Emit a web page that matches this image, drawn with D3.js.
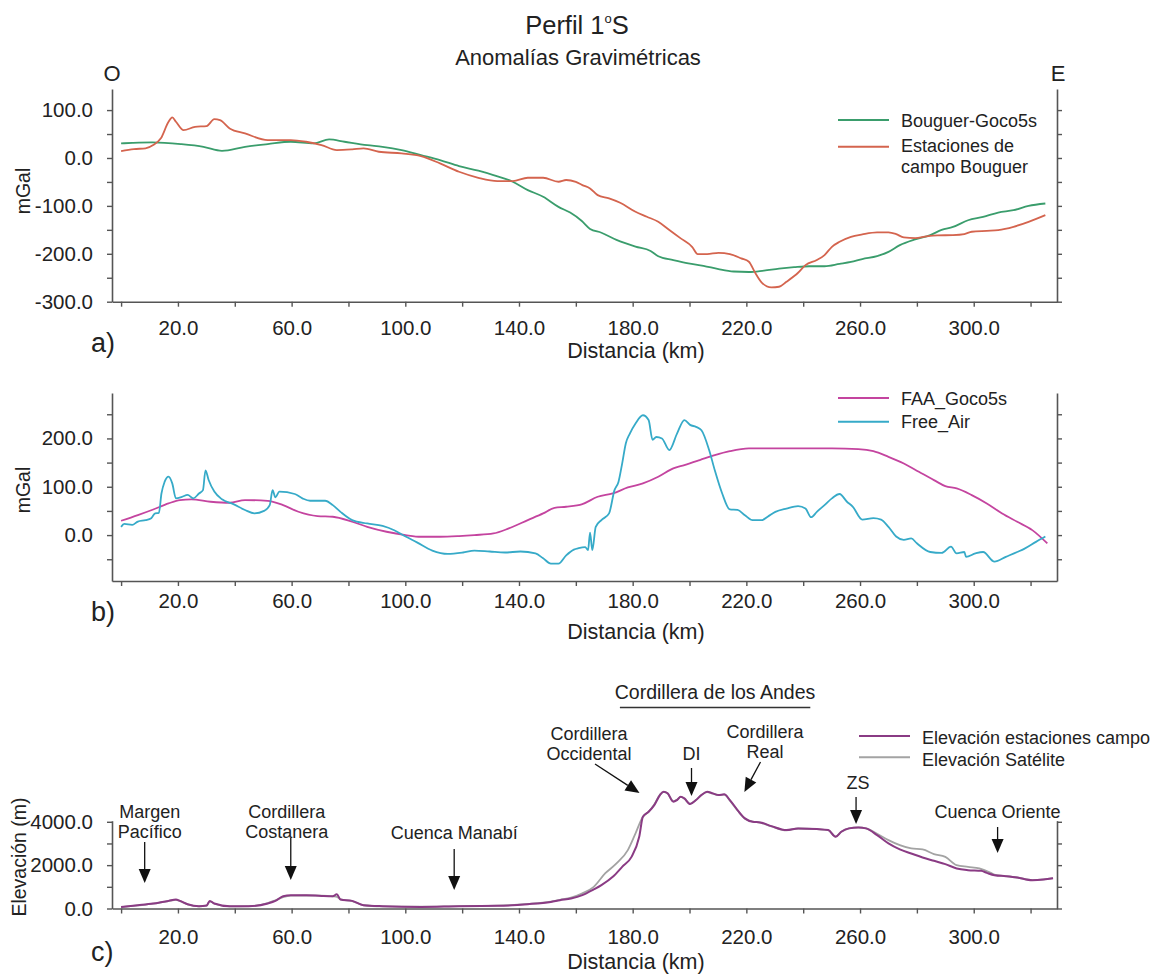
<!DOCTYPE html>
<html>
<head>
<meta charset="utf-8">
<script src="https://cdn.jsdelivr.net/npm/d3@7"></script>
<style>
  body { margin: 0; background: #fff; }
  svg { display: block; font-family: "Liberation Sans", Arial, sans-serif; }
</style>
</head>
<body>
<svg id="chart" width="1153" height="974"></svg>
<script>
// ---- Distance axis (km), shared by the three profiles ----
const distTicks = [0, 20, 40, 60, 80, 100, 120, 140, 160, 180, 200, 220, 240, 260, 280, 300, 320];
const distLabels = [20, 60, 100, 140, 180, 220, 260, 300];

// ---- a) Bouguer anomalies (mGal) as [km, value] ----
const bouguerGoco5s = [
  [0,30.5],[4,31.5],[11,32.5],[21,29],[29,23.4],[35.5,15],[43.6,23.4],[51.6,29],[59.7,33.9],[67.8,30.5],
  [73.2,38.7],[78.6,33.9],[86.6,26.9],[92,23.4],[98.7,16.5],[105.5,6],[112.2,-4.4],[118.9,-16.9],[125.7,-26.6],
  [131,-35.7],[137.8,-49.6],[143.1,-67],[148.5,-81],[153.9,-102],[158,-114],[162,-131],[165,-148],[169,-156],
  [174.3,-171],[181,-185],[186.3,-194],[189,-205],[194.3,-213],[199.6,-220],[204.9,-225],[210.2,-232],
  [215.5,-237],[220.9,-238],[226.2,-235],[231.5,-231],[236.8,-228],[242.1,-226],[247.5,-226],[252.8,-221],
  [256.8,-217],[260.8,-211],[266,-205],[270,-196],[274,-182],[279.4,-170],[284.7,-161],[288.7,-150],
  [292.7,-144],[298,-130],[303.3,-123],[308.6,-114],[314,-109],[319.3,-100],[325.2,-95]
];
const bouguerCampo = [
  [0,14.4],[4.5,18.6],[8.6,20],[11.3,27],[14,41],[16.7,75.6],[18,84.7],[19.3,75.6],[22,58],[26,65],
  [30.1,66.6],[32.8,81],[34.8,79],[38.2,61.7],[43.6,51.3],[51.6,37.4],[59.7,37.4],[65.1,33.9],[70.5,27],
  [75.9,16.5],[81.3,18],[85.3,20],[90.7,13],[98.7,9.5],[105.5,4],[112.2,-11.3],[118.9,-28.8],[125.7,-41.3],
  [132.4,-48.2],[137.8,-48.2],[143.1,-41.3],[148.5,-41.3],[153.9,-49.6],[156.6,-46],[160,-50],[162.3,-56.6],
  [165,-63.5],[167.7,-77.5],[171.7,-84.3],[175.6,-93.5],[181,-112.3],[185,-122.7],[189,-133.2],[192.9,-150.5],
  [196.9,-167.8],[200.9,-185.4],[202.9,-200.6],[206.2,-200.6],[210.2,-197.9],[214.2,-200.6],[218.2,-209.6],
  [220.9,-216.6],[222.9,-237.5],[225.5,-260.5],[228.8,-270],[231.5,-268.8],[234.1,-258.4],[238.2,-239.6],
  [240.8,-223.6],[244.8,-213],[247.5,-202.7],[250.1,-185.4],[252.8,-174.9],[256.8,-164.5],[260.8,-159.5],
  [266,-155.3],[270,-155.3],[272.7,-158.9],[275.4,-165.8],[279.4,-167.2],[283.4,-163.7],[287.3,-161.6],
  [292.7,-161],[296.7,-158.9],[299.3,-154],[304.6,-152],[308.6,-150.5],[314,-143.6],[319.3,-133.2],[325.2,-119.2]
];

// ---- b) Free-air anomalies (mGal) as [km, value] ----
const faaGoco5s = [
  [0,29.6],[5.9,41.4],[11.3,53],[16.7,65.5],[20.7,72.4],[24.7,73.7],[31.5,69],[38.2,66.9],[43.6,72.4],
  [51.6,71],[57,62],[62.4,48.3],[69.1,39.3],[74.5,37.9],[81.3,27.6],[86.6,17.2],[93.4,6.9],[100.1,0],
  [105.5,-3.4],[112.2,-3.4],[118.9,-2],[124.3,0],[131,3.4],[136.4,13.8],[143.1,31],[148.5,44.8],[152.5,56.5],
  [156.6,58.6],[162.3,64.1],[167.7,79.3],[173,86.2],[178.3,98.6],[183.6,106.9],[189,120.6],[194.3,137.9],
  [198.2,144.8],[203.6,155.1],[208.9,165.5],[214.2,173.7],[220.9,179.3],[228.8,179.3],[239.5,179.3],
  [250.1,179.3],[259.4,177.9],[264.7,173.7],[270,162],[275.4,148.2],[280.7,131],[286,113.8],[290,101.3],
  [294,96.5],[299.3,82.7],[304.6,65.5],[310,44.8],[315.3,27.6],[320.6,10.3],[325.9,-17.2]
];
const freeAir = [
  [0,17],[1.1,23],[3.9,21],[5.9,28],[8.6,31],[10.6,35],[12,45],[13.3,46],[14.2,86],[15.3,110],[16.7,121],
  [18,107],[19.3,76],[21.4,79],[23.4,83],[25.4,76],[27.4,86],[28.8,93],[29.7,134],[30.8,114],[32.8,90],
  [35.5,74],[39.5,64],[43.6,52],[46.9,45],[50.3,50],[52.3,62],[53.3,93],[54.3,78],[55.7,90],[61.1,85],
  [63.8,76],[66.5,71],[71.8,71],[74.5,62],[77.2,48],[81.3,31],[86.6,24],[92,19],[96.1,10],[100.1,-3],
  [104.1,-15],[109.5,-32],[114.9,-39],[120.3,-36],[124.3,-32],[129.7,-34],[135.1,-36],[140.5,-34],
  [145.8,-38],[148.5,-48],[151.2,-59],[153.9,-59],[156.6,-42],[159.3,-30],[161,-27],[163.3,-25],[164.3,-31],
  [165,5],[165.8,-31],[167,17],[169,31],[171.7,45],[173.6,93],[175,110],[176.3,148],[177.6,190],[179,210],
  [181,231],[183.6,248],[185.6,238],[187,197],[188.3,203],[190.3,200],[192.9,176],[195.6,210],[198.2,238],
  [200.2,228],[202.3,224],[204.2,217],[206.9,176],[208.9,134],[211.5,86],[214.2,53],[216.9,52],[219.5,41],
  [222.2,31],[225.5,31],[227.5,38],[230.2,48],[234.1,55],[238.2,60],[240.8,55],[242.8,37],[244.8,48],
  [247.5,62],[250.1,76],[252.8,85],[255.4,69],[257.4,59],[260.8,32],[264.7,35],[267.4,32],[270,17],
  [272.7,-3],[275.4,-10],[278,-7],[280,-17],[284.7,-35],[288.7,-37],[292,-24],[294,-38],[296.7,-35],
  [297.3,-45],[300.6,-38],[303.3,-35],[307.3,-55],[311.3,-45],[315.3,-35],[317.9,-28],[321.9,-14],[325.2,-3]
];

// ---- c) Topography (m) as [km, value] ----
const elevCampo = [
  [0,74],[5.9,152],[11.3,231],[16.7,351],[19.3,416],[20.7,351],[23.4,199],[27.4,106],[30.1,139],[31.2,351],
  [32.8,231],[38.2,106],[44.9,106],[51.6,231],[54.3,351],[57,568],[59.7,614],[65.1,614],[70.5,582],[74.5,568],
  [75.9,660],[77.2,416],[81.3,351],[85.3,152],[92,106],[105.5,74],[118.9,106],[132.4,122],[143.1,199],
  [151.2,305],[154.4,383],[158.3,462],[162.3,614],[166.3,877],[169,1076],[173,1460],[176.3,1922],[179.6,2383],
  [182.3,3307],[183.6,4231],[185.6,4462],[187.6,4771],[189.6,5233],[190.9,5386],[192.3,5312],[194.3,4924],
  [195.6,5002],[196.9,5155],[198.2,5081],[200.2,4818],[202.3,5002],[204.2,5233],[206.2,5386],[208.2,5312],
  [210.2,5233],[212.2,5266],[214.2,5002],[216.9,4540],[219.5,4157],[222.2,4000],[224.9,3972],[228.8,3801],
  [234.1,3617],[238.2,3695],[244.8,3663],[248.8,3617],[251.4,3307],[253.4,3538],[256.1,3695],[259.4,3741],
  [262.1,3695],[266,3386],[270,3002],[274,2725],[278,2540],[282,2356],[286,2199],[290,2046],[294,1848],
  [298,1769],[302.6,1737],[304.6,1644],[307.3,1538],[311.3,1492],[315.3,1432],[320.6,1307],[324.6,1340],[327.9,1400]
];
const elevSatelite = [
  [0,60],[5.9,140],[11.3,220],[16.7,340],[19.3,400],[20.7,340],[23.4,190],[27.4,100],[30.1,130],[31.2,330],
  [32.8,220],[38.2,100],[44.9,110],[51.6,250],[54.3,380],[57,520],[59.7,590],[65.1,600],[70.5,590],[74.5,560],
  [75.9,540],[77.2,420],[81.3,340],[85.3,150],[92,100],[105.5,80],[118.9,110],[132.4,130],[143.1,210],
  [151.2,320],[154.4,400],[158.3,500],[162.3,700],[166.3,1000],[170.3,1617],[174.3,2078],[178.3,2693],
  [181,3464],[183.6,4231],[185.6,4462],[187.6,4800],[189.6,5250],[190.9,5380],[192.3,5300],[194.3,4950],
  [195.6,5020],[196.9,5150],[198.2,5060],[200.2,4830],[202.3,5010],[204.2,5240],[206.2,5370],[208.2,5300],
  [210.2,5240],[212.2,5250],[214.2,4980],[216.9,4520],[219.5,4140],[222.2,4010],[224.9,3960],[228.8,3790],
  [234.1,3600],[238.2,3690],[244.8,3660],[248.8,3610],[251.4,3320],[253.4,3540],[256.1,3700],[259.4,3740],
  [262.1,3700],[266,3450],[270,3155],[274,2924],[278,2771],[282,2725],[286,2508],[290,2383],[294,2000],
  [298,1922],[302,1848],[306,1644],[307.3,1560],[311.3,1490],[315.3,1430],[320.6,1310],[324.6,1340],[327.9,1400]
];

// ---- Place names along the profile (km) ----
const placeLabels = [
  { lines: ["Margen", "Pacífico"], km: 8.3 },
  { lines: ["Cordillera", "Costanera"], km: 59.7 },
  { lines: ["Cuenca Manabí"], km: 117.2 },
  { lines: ["DI"], km: 200.7 },
  { lines: ["ZS"], km: 258.6 },
  { lines: ["Cuenca Oriente"], km: 308.4 }
];

// ---------------------------------------------------------------
const svg = d3.select("#chart");
const FONT_TICK = 20.5;
const AXIS_COLOR = "#555";
const TEXT_COLOR = "#222";

const x = d3.scaleLinear().domain([-3.2, 329.3]).range([112, 1057]);

// Title block
const title = svg.append("text")
  .attr("x", 577).attr("y", 34)
  .attr("text-anchor", "middle")
  .attr("font-size", 25.5).attr("fill", TEXT_COLOR);
title.append("tspan").text("Perfil 1");
title.append("tspan").attr("font-size", 13).attr("dy", -11).text("o");
title.append("tspan").attr("dy", 11).text("S");

svg.append("text").attr("x", 578).attr("y", 65).attr("text-anchor", "middle")
  .attr("font-size", 22).attr("fill", TEXT_COLOR).text("Anomalías Gravimétricas");

svg.append("text").attr("x", 112).attr("y", 81).attr("text-anchor", "middle")
  .attr("font-size", 22).attr("fill", TEXT_COLOR).text("O");
svg.append("text").attr("x", 1058).attr("y", 81).attr("text-anchor", "middle")
  .attr("font-size", 22).attr("fill", TEXT_COLOR).text("E");

// Generic profile panel: frame on left, bottom and right, ticks outward.
function drawPanel(opt) {
  const y = d3.scaleLinear().domain(opt.yDomain).range([opt.bottom, opt.top]);
  const g = svg.append("g");

  const xAxis = d3.axisBottom(x)
    .tickValues(distTicks)
    .tickSize(5).tickSizeOuter(0)
    .tickPadding(opt.xPad)
    .tickFormat(d => distLabels.includes(d) ? d.toFixed(1) : "");
  const gx = g.append("g").attr("transform", `translate(0,${opt.bottom})`).call(xAxis);

  const yLeft = d3.axisLeft(y)
    .tickValues(opt.yTicks)
    .tickSize(5).tickSizeOuter(0)
    .tickPadding(14)
    .tickFormat(d => opt.yLabels.includes(d) ? d.toFixed(1) : "");
  const gyl = g.append("g").attr("transform", `translate(${x.range()[0]},0)`).call(yLeft);

  const yRight = d3.axisRight(y)
    .tickValues(opt.yTicks)
    .tickSize(5).tickSizeOuter(0)
    .tickFormat("");
  const gyr = g.append("g").attr("transform", `translate(${x.range()[1]},0)`).call(yRight);

  [gx, gyl, gyr].forEach(a => {
    a.select(".domain").attr("stroke", AXIS_COLOR).attr("stroke-width", 1.6);
    a.selectAll(".tick line").attr("stroke", AXIS_COLOR).attr("stroke-width", 1.4);
    a.selectAll(".tick text").attr("font-size", FONT_TICK)
      .attr("font-family", '"Liberation Sans", Arial, sans-serif').attr("fill", TEXT_COLOR);
  });

  // y axis title
  svg.append("text")
    .attr("transform", `translate(${opt.yTitleX},${opt.yTitleY}) rotate(-90)`)
    .attr("text-anchor", "middle").attr("dominant-baseline", "central")
    .attr("font-size", 19.5).attr("fill", TEXT_COLOR).text(opt.yTitle);

  // x axis title
  svg.append("text").attr("x", 636).attr("y", opt.xTitleY)
    .attr("text-anchor", "middle").attr("font-size", 21.5).attr("fill", TEXT_COLOR)
    .text("Distancia (km)");

  // panel letter
  svg.append("text").attr("x", 91).attr("y", opt.letterY)
    .attr("font-size", 27).attr("fill", TEXT_COLOR).text(opt.letter);

  const line = d3.line().x(d => x(d[0])).y(d => y(d[1])).curve(d3.curveMonotoneX);
  opt.series.forEach(s => {
    g.append("path").datum(s.data)
      .attr("fill", "none").attr("stroke", s.color)
      .attr("stroke-width", s.width || 1.8)
      .attr("stroke-linejoin", "round")
      .attr("d", line);
  });

  // legend
  const lg = svg.append("g");
  opt.legend.items.forEach((it, i) => {
    const ly = opt.legend.lineY[i];
    lg.append("line").attr("x1", opt.legend.x0).attr("x2", opt.legend.x1)
      .attr("y1", ly).attr("y2", ly)
      .attr("stroke", it.color).attr("stroke-width", 2);
    const t = lg.append("text").attr("x", opt.legend.tx).attr("y", opt.legend.textY[i])
      .attr("font-size", 18).attr("fill", TEXT_COLOR);
    it.label.forEach((ln, j) => {
      t.append("tspan").attr("x", opt.legend.tx).attr("dy", j === 0 ? 0 : 21).text(ln);
    });
  });
  return y;
}

const colGreen = "#3a9d6c", colRed = "#d4644e", colMag = "#c4449f", colCyan = "#36aac8";
const colPurple = "#8a3b84", colGray = "#a3a3a3";

// a) Bouguer
drawPanel({
  top: 89, bottom: 301.7, yDomain: [-300, 144],
  yTicks: [-300, -250, -200, -150, -100, -50, 0, 50, 100],
  yLabels: [-300, -200, -100, 0, 100],
  xPad: 14, yTitle: "mGal", yTitleX: 23, yTitleY: 191,
  xTitleY: 358, letter: "a)", letterY: 352,
  series: [
    { data: bouguerGoco5s, color: colGreen },
    { data: bouguerCampo, color: colRed }
  ],
  legend: {
    x0: 838, x1: 889, tx: 901,
    lineY: [120, 146.7], textY: [127, 151.5],
    items: [
      { label: ["Bouguer-Goco5s"], color: colGreen },
      { label: ["Estaciones de", "campo Bouguer"], color: colRed }
    ]
  }
});

// b) Free air
drawPanel({
  top: 393, bottom: 581, yDomain: [-95, 294],
  yTicks: [-50, 0, 50, 100, 150, 200, 250],
  yLabels: [0, 100, 200],
  xPad: 7, yTitle: "mGal", yTitleX: 23, yTitleY: 490,
  xTitleY: 639, letter: "b)", letterY: 621,
  series: [
    { data: faaGoco5s, color: colMag },
    { data: freeAir, color: colCyan }
  ],
  legend: {
    x0: 838, x1: 889, tx: 901,
    lineY: [398, 421.7], textY: [404.5, 428],
    items: [
      { label: ["FAA_Goco5s"], color: colMag },
      { label: ["Free_Air"], color: colCyan }
    ]
  }
});

// c) Topography
drawPanel({
  top: 820.7, bottom: 908.5, yDomain: [0, 4050],
  yTicks: [0, 1000, 2000, 3000, 4000],
  yLabels: [0, 2000, 4000],
  xPad: 16, yTitle: "Elevación (m)", yTitleX: 19, yTitleY: 857,
  xTitleY: 969, letter: "c)", letterY: 961,
  series: [
    { data: elevSatelite, color: colGray, width: 1.8 },
    { data: elevCampo, color: colPurple, width: 2 }
  ],
  legend: {
    x0: 859, x1: 910, tx: 922,
    lineY: [736, 757.3], textY: [744, 766],
    items: [
      { label: ["Elevación estaciones campo"], color: colPurple },
      { label: ["Elevación Satélite"], color: colGray }
    ]
  }
});

// ---- Annotations on the topographic profile ----
const ann = svg.append("g").attr("fill", TEXT_COLOR).attr("font-size", 18);

function arrow(x1, y1, x2, y2) {
  const ang = Math.atan2(y2 - y1, x2 - x1);
  const len = 14, half = 6;
  const bx = x2 - len * Math.cos(ang), by = y2 - len * Math.sin(ang);
  ann.append("line").attr("x1", x1).attr("y1", y1).attr("x2", bx).attr("y2", by)
    .attr("stroke", "#111").attr("stroke-width", 1.3);
  const px = -Math.sin(ang) * half, py = Math.cos(ang) * half;
  ann.append("path")
    .attr("d", `M${x2},${y2}L${bx + px},${by + py}L${bx - px},${by - py}Z`)
    .attr("fill", "#111");
}

// vertical arrows with labels above them
const arrowLayout = {
  "Margen": { text: [818, 838], dx: 5, y1: 842, y2: 883 },
  "Cordillera": { text: [818, 838], dx: -4, y1: 838, y2: 880 },
  "Cuenca Manabí": { text: [839], dx: 0, y1: 849, y2: 890 },
  "DI": { text: [760], dx: 0, y1: 768, y2: 796 },
  "ZS": { text: [789], dx: 2, y1: 797, y2: 824 },
  "Cuenca Oriente": { text: [818], dx: 0, y1: 827, y2: 853 }
};
placeLabels.forEach(p => {
  const lay = arrowLayout[p.lines[0]];
  const cx = x(p.km);
  p.lines.forEach((ln, i) => {
    ann.append("text").attr("x", cx + lay.dx).attr("y", lay.text[i])
      .attr("text-anchor", "middle").text(ln);
  });
  arrow(cx, lay.y1, cx, lay.y2);
});

// Western and Eastern cordilleras: slanted arrows
ann.append("text").attr("x", 589).attr("y", 740).attr("text-anchor", "middle").text("Cordillera");
ann.append("text").attr("x", 589).attr("y", 760).attr("text-anchor", "middle").text("Occidental");
arrow(595, 764, x(182.4), 793);
ann.append("text").attr("x", 765).attr("y", 738).attr("text-anchor", "middle").text("Cordillera");
ann.append("text").attr("x", 765).attr("y", 758).attr("text-anchor", "middle").text("Real");
arrow(760.5, 762, x(219.3), 792);

// Andes bracket
ann.append("text").attr("x", 715).attr("y", 699).attr("text-anchor", "middle")
  .attr("font-size", 19.5).text("Cordillera de los Andes");
ann.append("line").attr("x1", x(175.5)).attr("x2", x(242.5)).attr("y1", 707.5).attr("y2", 707.5)
  .attr("stroke", "#333").attr("stroke-width", 1.6);
</script>
</body>
</html>
